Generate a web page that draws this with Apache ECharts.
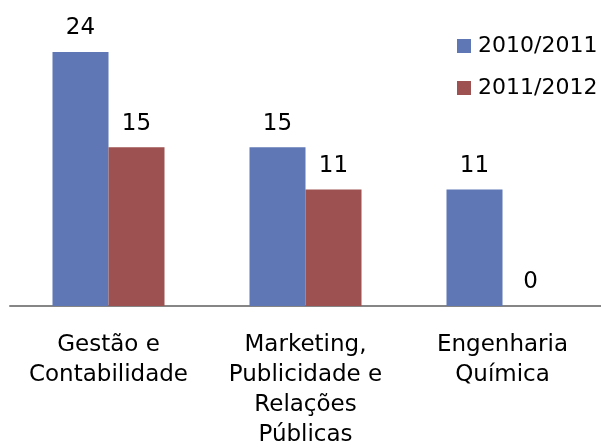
<!DOCTYPE html>
<html>
<head>
<meta charset="utf-8">
<script src="https://cdn.jsdelivr.net/npm/echarts@6/dist/echarts.min.js"></script>
<style>
  html, body { margin: 0; padding: 0; background: #fff; }
  #chart { width: 601px; height: 446px; }
</style>
</head>
<body>
<div id="chart"></div>
<script>
const categories = ["Gestão e\nContabilidade", "Marketing,\nPublicidade e\nRelações\nPúblicas", "Engenharia\nQuímica"];
const seriesNames = ["2010/2011", "2011/2012"];
const values2010 = [24, 15, 11];
const values2011 = [15, 11, 0];
const colors = ["#5f77b5", "#9e5151"];

const font = "DejaVu Sans";
const chart = echarts.init(document.getElementById("chart"));

function barSeries(name, data, color) {
  return {
    name: name,
    type: "bar",
    data: data,
    barWidth: 56,
    barGap: "0%",
    itemStyle: { color: color },
    label: {
      show: true,
      position: "top",
      distance: 12,
      color: "#000",
      fontFamily: font,
      fontSize: 23
    }
  };
}

chart.setOption({
  animation: false,
  textStyle: { fontFamily: font },
  grid: { left: 10, right: 0, top: 52, bottom: 140, containLabel: false, outerBoundsMode: "none" },
  legend: {
    orient: "vertical",
    left: 457,
    top: 35,
    padding: 0,
    itemWidth: 14,
    itemHeight: 14,
    itemGap: 20,
    icon: "rect",
    textStyle: { fontFamily: font, fontSize: 22, color: "#000", padding: [0, 0, 0, 2] },
    data: seriesNames
  },
  xAxis: {
    type: "category",
    data: categories,
    axisLine: { lineStyle: { color: "#868686", width: 2 } },
    axisTick: { show: false },
    axisLabel: {
      interval: 0,
      margin: 24,
      color: "#000",
      fontFamily: font,
      fontSize: 23,
      lineHeight: 30
    }
  },
  yAxis: {
    type: "value",
    min: 0,
    max: 24,
    show: false,
    splitLine: { show: false }
  },
  series: [
    barSeries(seriesNames[0], values2010, colors[0]),
    barSeries(seriesNames[1], values2011, colors[1])
  ]
});
</script>
</body>
</html>
